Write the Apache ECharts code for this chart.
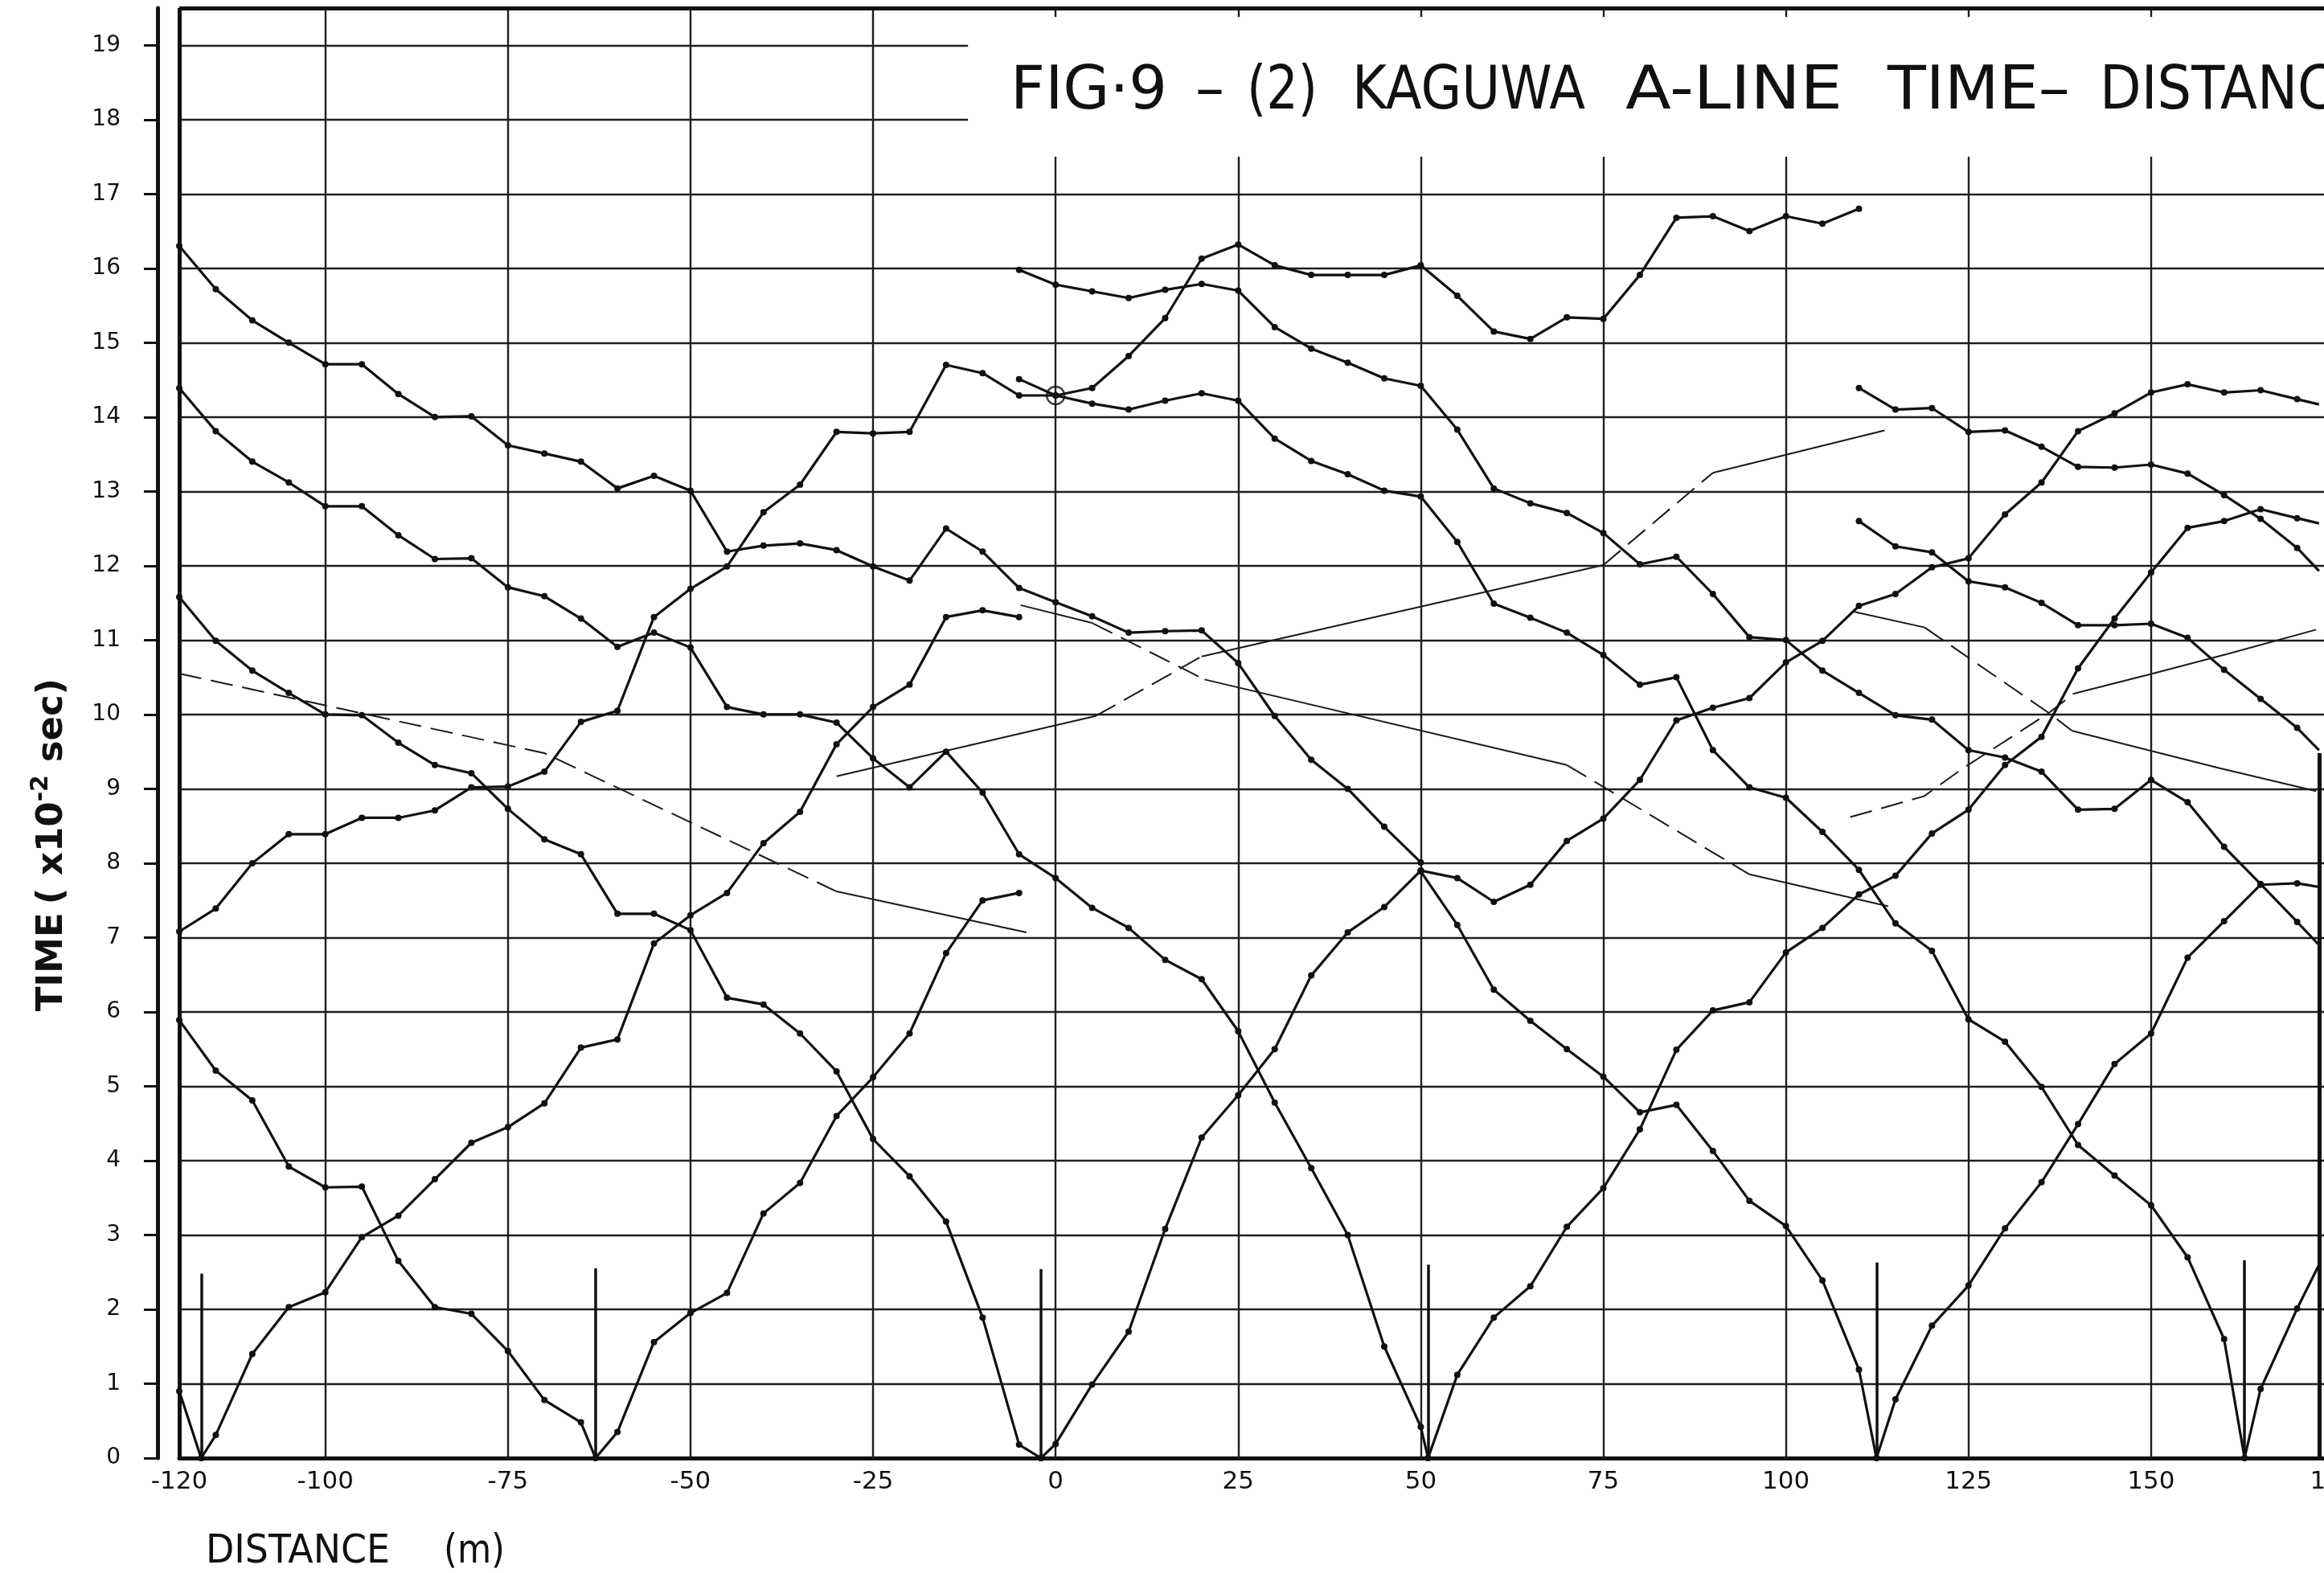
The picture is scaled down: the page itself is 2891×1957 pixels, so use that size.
<!DOCTYPE html>
<html><head><meta charset="utf-8">
<script src="https://cdn.jsdelivr.net/npm/echarts@6/dist/echarts.min.js"></script>
<style>html,body{margin:0;padding:0;background:#fff;}#c{width:2891px;height:1957px;}</style>
</head><body><div id="c"></div>
<script>
// ---------------- DATA (distance m, time x10^-2 s) ----------------
const xLabelValues = [-120,-100,-75,-50,-25,0,25,50,75,100,125,150,175];
const yLabelValues = [0,1,2,3,4,5,6,7,8,9,10,11,12,13,14,15,16,17,18,19];
const xGridFull = [-100,-75,-50,-25];
const xGridShort = [0,25,50,75,100,125,150];
const yGridFull = [1,2,3,4,5,6,7,8,9,10,11,12,13,14,15,16,17];
const yGridShort = [18,19];
const shotX = [-117,-63,-2,51,112.4,162.8];
const shotH = [2.48,2.55,2.54,2.6,2.63,2.66];

const s1Rev = [[-120,0.9],[-117,0]];
const s1Fwd = [[-117,0],[-115,0.31],[-110,1.4],[-105,2.03],[-100,2.23],[-95,2.97],[-90,3.26],[-85,3.75],[-80,4.24],[-75,4.45],[-70,4.77],[-65,5.52],[-60,5.63],[-55,6.92],[-50,7.3],[-45,7.6],[-40,8.27],[-35,8.69],[-30,9.6],[-25,10.1],[-20,10.4],[-15,11.31],[-10,11.4],[-5,11.31]];
const s2Rev = [[-63,0],[-65,0.48],[-70,0.78],[-75,1.44],[-80,1.94],[-85,2.03],[-90,2.65],[-95,3.65],[-100,3.64],[-105,3.92],[-110,4.81],[-115,5.21],[-120,5.89]];
const s2Fwd = [[-63,0],[-60,0.35],[-55,1.56],[-50,1.95],[-45,2.22],[-40,3.29],[-35,3.7],[-30,4.6],[-25,5.12],[-20,5.71],[-15,6.79],[-10,7.5],[-5,7.6]];
const s3Rev = [[-2,0],[-5,0.18],[-10,1.89],[-15,3.18],[-20,3.79],[-25,4.29],[-30,5.2],[-35,5.71],[-40,6.1],[-45,6.19],[-50,7.1],[-55,7.32],[-60,7.32],[-65,8.12],[-70,8.32],[-75,8.73],[-80,9.21],[-85,9.32],[-90,9.62],[-95,9.99],[-100,10.0],[-105,10.29],[-110,10.59],[-115,10.99],[-120,11.58]];
const s3Fwd = [[-2,0],[0,0.19],[5,0.99],[10,1.7],[15,3.08],[20,4.31],[25,4.88],[30,5.5],[35,6.49],[40,7.07],[45,7.41],[50,7.9]];
const s4Rev = [[51,0],[50,0.42],[45,1.5],[40,3.0],[35,3.9],[30,4.78],[25,5.74],[20,6.44],[15,6.7],[10,7.13],[5,7.4],[0,7.8],[-5,8.12],[-10,8.95],[-15,9.5],[-20,9.02],[-25,9.41],[-30,9.89],[-35,10.0],[-40,10.0],[-45,10.1],[-50,10.9],[-55,11.1],[-60,10.91],[-65,11.29],[-70,11.59],[-75,11.71],[-80,12.1],[-85,12.09],[-90,12.41],[-95,12.8],[-100,12.8],[-105,13.12],[-110,13.4],[-115,13.81],[-120,14.39]];
const s4Fwd = [[51,0],[55,1.12],[60,1.89],[65,2.31],[70,3.11],[75,3.63],[80,4.42],[85,5.49],[90,6.02],[95,6.13],[100,6.8],[105,7.13],[110,7.58],[115,7.83],[120,8.4],[125,8.72],[130,9.32],[135,9.7],[140,10.62],[145,11.29],[150,11.91],[155,12.51],[160,12.6],[165,12.76],[170,12.64],[173,12.57]];
const s5Rev = [[112.4,0],[110,1.19],[105,2.39],[100,3.12],[95,3.46],[90,4.13],[85,4.75],[80,4.65],[75,5.13],[70,5.5],[65,5.88],[60,6.3],[55,7.17],[50,7.89]];
const s5Fwd = [[112.4,0],[115,0.79],[120,1.78],[125,2.32],[130,3.09],[135,3.71],[140,4.49],[145,5.3],[150,5.71],[155,6.73],[160,7.22],[165,7.71],[170,7.73],[173,7.68]];
const s6Rev = [[162.8,0],[160,1.6],[155,2.7],[150,3.4],[145,3.8],[140,4.21],[135,4.99],[130,5.6],[125,5.9],[120,6.82],[115,7.19],[110,7.91],[105,8.42],[100,8.88],[95,9.02],[90,9.52],[85,10.5],[80,10.4],[75,10.8],[70,11.1],[65,11.3],[60,11.49],[55,12.32],[50,12.93],[45,13.01],[40,13.23],[35,13.41],[30,13.71],[25,14.22],[20,14.32],[15,14.22],[10,14.1],[5,14.18],[0,14.29],[-5,14.51]];
const s6Fwd = [[162.8,0],[165,0.93],[170,2.01],[173,2.6]];
const westFwd = [[-120,7.08],[-115,7.39],[-110,8.0],[-105,8.39],[-100,8.39],[-95,8.61],[-90,8.61],[-85,8.71],[-80,9.02],[-75,9.03],[-70,9.23],[-65,9.9],[-60,10.05],[-55,11.31],[-50,11.69],[-45,11.99],[-40,12.72],[-35,13.09],[-30,13.8],[-25,13.78],[-20,13.8],[-15,14.7],[-10,14.59],[-5,14.29],[0,14.29],[5,14.39],[10,14.82],[15,15.33],[20,16.13],[25,16.32],[30,16.04],[35,15.91],[40,15.91],[45,15.91],[50,16.04],[55,15.63],[60,15.15],[65,15.05],[70,15.34],[75,15.32],[80,15.91],[85,16.68],[90,16.7],[95,16.5],[100,16.7],[105,16.6],[110,16.8]];
const westFwdTail = [[-127,6.62],[-120,7.08]];
const lineA = [[-120,16.3],[-115,15.72],[-110,15.3],[-105,15.0],[-100,14.71],[-95,14.71],[-90,14.31],[-85,14.0],[-80,14.01],[-75,13.62],[-70,13.51],[-65,13.4],[-60,13.04],[-55,13.21],[-50,13.01],[-45,12.19],[-40,12.27],[-35,12.3],[-30,12.21],[-25,11.99],[-20,11.8],[-15,12.5],[-10,12.19],[-5,11.7],[0,11.51],[5,11.32],[10,11.1],[15,11.12],[20,11.13],[25,10.69],[30,9.98],[35,9.39],[40,9.0],[45,8.49],[50,8.01]];
const lineD = [[-5,15.98],[0,15.78],[5,15.69],[10,15.6],[15,15.71],[20,15.79],[25,15.7],[30,15.21],[35,14.92],[40,14.73],[45,14.52],[50,14.42],[55,13.83],[60,13.04],[65,12.84],[70,12.71],[75,12.44],[80,12.02],[85,12.12],[90,11.62],[95,11.04],[100,11.0],[105,10.59],[110,10.29],[115,9.99],[120,9.93],[125,9.52],[130,9.42],[135,9.23],[140,8.72],[145,8.73],[150,9.12],[155,8.82],[160,8.22],[165,7.72],[170,7.21],[173,6.9]];
const lineE = [[110,14.39],[115,14.1],[120,14.12],[125,13.8],[130,13.82],[135,13.6],[140,13.33],[145,13.32],[150,13.36],[155,13.24],[160,12.95],[165,12.63],[170,12.24],[173,11.93]];
const lineF = [[50,7.9],[55,7.8],[60,7.48],[65,7.71],[70,8.3],[75,8.6],[80,9.12],[85,9.92],[90,10.09],[95,10.22],[100,10.7],[105,10.99],[110,11.46],[115,11.62],[120,11.98],[125,12.1],[130,12.69],[135,13.12],[140,13.81],[145,14.05],[150,14.33],[155,14.44],[160,14.33],[165,14.36],[170,14.24],[173,14.17]];
const lineG = [[110,12.6],[115,12.26],[120,12.18],[125,11.79],[130,11.71],[135,11.5],[140,11.2],[145,11.2],[150,11.22],[155,11.03],[160,10.6],[165,10.21],[170,9.82],[173,9.52]];
const circledPoint = [[0,14.29]];

// interpretive (undotted) lines: solid pieces and dashed pieces
const thinSolid = [
  [[-30,7.62],[-4,7.07]],
  [[-30,9.17],[5.5,9.98]],
  [[20,10.78],[75,12.01]],
  [[90,13.25],[113.5,13.82]],
  [[-4.8,11.47],[5,11.23]],
  [[20.4,10.47],[70,9.32]],
  [[95,7.85],[114,7.42]],
  [[109.4,11.38],[119,11.17]],
  [[139.2,9.78],[149.6,9.52],[159.3,9.28],[172.6,8.97]],
  [[139.4,10.28],[149.8,10.54],[160.3,10.81],[172.6,11.14]]
];
const thinDashed = [
  [[-120,10.55],[-70,9.48],[-30,7.62]],
  [[5.5,9.98],[20,10.78]],
  [[75,12.01],[90,13.25]],
  [[5,11.23],[20.4,10.47]],
  [[70,9.32],[95,7.85]],
  [[119,11.17],[124.3,10.81],[136,10.02],[139.2,9.78]],
  [[108.8,8.62],[118.9,8.9],[124.3,9.28],[136,10.02],[139.4,10.28]]
];

// ---------------- LAYOUT / STYLE ----------------
const INK = '#111111';
const X_MIN = -120, X_MAX = 175, Y_MIN = 0, Y_MAX = 19.5;
const TITLE_BOX_TOP = 17.5, TITLE_BOX_LEFT = -12, EDGE_X = 173, EDGE_TOP = 9.48;

const dotted = [s1Rev,s1Fwd,s2Rev,s2Fwd,s3Rev,s3Fwd,s4Rev,s4Fwd,s5Rev,s5Fwd,s6Rev,s6Fwd,westFwd,lineA,lineD,lineE,lineF,lineG];
const series = [];

function seg(a, b) { return [{coord: a}, {coord: b}]; }
const gridSegs = [];
xGridFull.forEach(x => gridSegs.push(seg([x, Y_MIN], [x, Y_MAX])));
xGridShort.forEach(x => gridSegs.push(seg([x, Y_MIN], [x, TITLE_BOX_TOP])));
yGridFull.forEach(y => gridSegs.push(seg([X_MIN, y], [X_MAX, y])));
yGridShort.forEach(y => gridSegs.push(seg([X_MIN, y], [TITLE_BOX_LEFT, y])));
xGridShort.forEach(x => gridSegs.push(seg([x, Y_MAX], [x, Y_MAX - 0.12])));

series.push({type:'line', data:[], silent:true, z:1,
  markLine:{silent:true, symbol:['none','none'], label:{show:false}, animation:false,
    lineStyle:{color:'#1e1e1e', width:2.4, type:'solid'}, emphasis:{disabled:true}, data: gridSegs}});

const frameSegs = [
  seg([X_MIN, Y_MIN], [X_MIN, Y_MAX]),
  seg([X_MIN, Y_MAX], [X_MAX, Y_MAX]),
  seg([EDGE_X, Y_MIN], [EDGE_X, EDGE_TOP])
];
series.push({type:'line', data:[], silent:true, z:2,
  markLine:{silent:true, symbol:['none','none'], label:{show:false}, animation:false,
    lineStyle:{color:INK, width:5, type:'solid'}, emphasis:{disabled:true}, data: frameSegs}});

series.push({type:'line', data:[], silent:true, z:3,
  markLine:{silent:true, symbol:['none','none'], label:{show:false}, animation:false,
    lineStyle:{color:INK, width:3.5, type:'solid'}, emphasis:{disabled:true},
    data: shotX.map((x, i) => seg([x, 0], [x, shotH[i]]))}});

thinSolid.forEach(d => series.push({type:'line', data:d, symbol:'none', silent:true, z:4,
  lineStyle:{color:'#1a1a1a', width:2, type:'solid'}}));
thinDashed.forEach(d => series.push({type:'line', data:d, symbol:'none', silent:true, z:4,
  lineStyle:{color:'#1a1a1a', width:2, type:[28, 12]}}));

series.push({type:'line', data:westFwdTail, symbol:'none', silent:true, clip:false, z:5,
  lineStyle:{color:INK, width:3.2}});

dotted.forEach(d => series.push({type:'line', silent:true, z:5,
  data: d.map(p => p[0] >= EDGE_X ? {value:p, symbol:'none'} : p),
  symbol:'circle', symbolSize:8, showSymbol:true,
  lineStyle:{color:INK, width:3.2}, itemStyle:{color:INK}}));

series.push({type:'scatter', data:circledPoint, symbol:'circle', symbolSize:22, silent:true, z:6,
  itemStyle:{color:'rgba(0,0,0,0)', borderColor:INK, borderWidth:2.5}});

// title words (scaled horizontally to match the lettering)
const ctx = document.createElement('canvas').getContext('2d');
function textW(t, size, fam, weight) { ctx.font = (weight || 'normal') + ' ' + size + 'px ' + fam; return ctx.measureText(t).width; }
const TFONT = "'DejaVu Sans'";
const titleWords = ['FIG·9', '–', '(2)', 'KAGUWA', 'A-LINE', 'TIME–', 'DISTANCE'];
const titleFit   = ['FIG·9', '–', '(2)', 'KAGUWA', 'A-LINE', 'TIME–', 'DISTANC'];
const titleLeft  = [1257, 1487, 1551, 1682, 2022, 2348, 2612];
const titleWidth = [195, 36, 88, 290, 270, 227, 293];
const graphics = titleWords.map((w, i) => ({
  type:'text', x:titleLeft[i], y:116, z:100, silent:true,
  scaleX: titleWidth[i] / textW(titleFit[i], 75, TFONT),
  style:{text:w, fontSize:75, fontFamily:'DejaVu Sans', fill:INK, align:'left', verticalAlign:'middle'}
}));
const xNameWords = ['DISTANCE', '(m)'];
const xNameLeft = [256, 552];
const xNameWidth = [229, 76];
xNameWords.forEach((w, i) => graphics.push({
  type:'text', x:xNameLeft[i], y:1931, z:100, silent:true,
  scaleX: xNameWidth[i] / textW(w, 50, TFONT),
  style:{text:w, fontSize:50, fontFamily:'DejaVu Sans', fill:INK, align:'left', verticalAlign:'middle'}
}));

const option = {
  animation:false,
  backgroundColor:'#ffffff',
  grid:{left:223, top:10, width:2680, height:1804, show:false, containLabel:false, outerBoundsMode:'none'},
  xAxis:{type:'value', min:X_MIN, max:X_MAX,
    axisLine:{show:true, onZero:false, lineStyle:{color:INK, width:5}},
    axisTick:{show:false},
    splitLine:{show:false},
    axisLabel:{customValues:xLabelValues, margin:14, fontSize:31, fontFamily:'DejaVu Sans', color:INK,
      showMinLabel:true, showMaxLabel:true, hideOverlap:false}},
  yAxis:{type:'value', min:Y_MIN, max:Y_MAX, interval:1, offset:27,
    axisLine:{show:true, onZero:false, lineStyle:{color:INK, width:5}},
    axisTick:{show:true, inside:false, length:17, customValues:yLabelValues, lineStyle:{color:INK, width:3}},
    splitLine:{show:false},
    axisLabel:{customValues:yLabelValues, margin:46, fontSize:28, fontFamily:'DejaVu Sans', color:INK},
    name:'{t|TIME}   {t|( x10}{s|-2}{t| sec)}', nameLocation:'middle', nameRotate:90, nameGap:108,
    nameTextStyle:{padding:[0,278,0,0], rich:{
      t:{fontSize:45, fontWeight:'bold', fontFamily:'DejaVu Sans', color:INK, verticalAlign:'bottom'},
      s:{fontSize:30, fontWeight:'bold', fontFamily:'DejaVu Sans', color:INK, verticalAlign:'bottom', padding:[0,0,22,0]}
    }}},
  graphic: graphics,
  series: series
};
const chart = echarts.init(document.getElementById('c'), null, {renderer:'canvas'});
chart.setOption(option);
</script></body></html>
